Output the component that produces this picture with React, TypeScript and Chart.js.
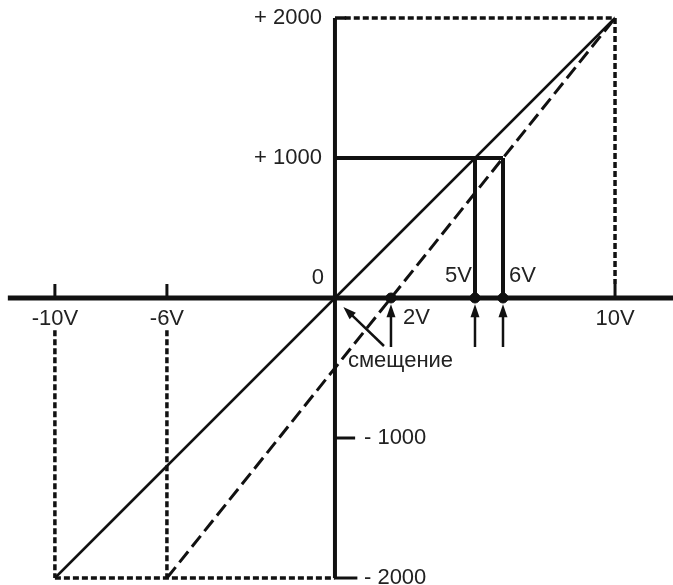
import React, { useEffect, useRef } from "react";
import { Chart, registerables } from "chart.js";

Chart.register(...registerables);

// ---- data ----
const solidX = [-10, 10];
const solidY = [-2000, 2000];
const dashedX = [-6, 10];
const dashedY = [-2000, 2000];
const markerX = [2, 5, 6];
const markerLabels = ["2V", "5V", "6V"];
const levelY = 1000;
const levelEndX = 6;
const rangeX = [-10, 10];
const rangeY = [-2000, 2000];
const guideX = [-10, -6];
const xTickValues = [-10, -6, 10];
const xTickLabels = ["-10V", "-6V", "10V"];
const yTickValues = [2000, 1000, -1000, -2000];
const yTickLabels = ["+ 2000", "+ 1000", "- 1000", "- 2000"];
const zeroLabel = "0";
const offsetLabel = "смещение";
const arrowTailY = -350;
const arrowTipY = -45;
const offsetArrowFrom = [1.75, -343];
const offsetArrowTo = [0.3, -64];

type Seg = [number, number, number, number];

const INK = "#111";

function seg(s: Seg, width: number, dash: number[] = []) {
  return {
    data: [
      { x: s[0], y: s[1] },
      { x: s[2], y: s[3] },
    ],
    borderColor: INK,
    borderWidth: width,
    borderDash: dash,
    borderCapStyle: "butt" as const,
    pointRadius: 0,
    showLine: true,
    fill: false,
    clip: false as const,
  };
}

const labelPlugin = {
  id: "labels",
  afterDatasetsDraw(chart: any) {
    const ctx = chart.ctx;
    const xs = chart.scales.x;
    const ys = chart.scales.y;
    const px = (v: number) => xs.getPixelForValue(v);
    const py = (v: number) => ys.getPixelForValue(v);
    const x0 = px(0);
    const y0 = py(0);

    const arrow = (x1: number, y1: number, x2: number, y2: number) => {
      const ang = Math.atan2(y2 - y1, x2 - x1);
      const len = 13;
      const hw = 4.5;
      ctx.save();
      ctx.strokeStyle = INK;
      ctx.fillStyle = INK;
      ctx.lineWidth = 2.5;
      ctx.beginPath();
      ctx.moveTo(x1, y1);
      ctx.lineTo(x2 - Math.cos(ang) * len * 0.8, y2 - Math.sin(ang) * len * 0.8);
      ctx.stroke();
      ctx.beginPath();
      ctx.moveTo(x2, y2);
      ctx.lineTo(
        x2 - Math.cos(ang) * len + Math.sin(ang) * hw,
        y2 - Math.sin(ang) * len - Math.cos(ang) * hw
      );
      ctx.lineTo(
        x2 - Math.cos(ang) * len - Math.sin(ang) * hw,
        y2 - Math.sin(ang) * len + Math.cos(ang) * hw
      );
      ctx.closePath();
      ctx.fill();
      ctx.restore();
    };

    markerX.forEach((mx) => arrow(px(mx), py(arrowTailY), px(mx), py(arrowTipY)));
    arrow(px(offsetArrowFrom[0]), py(offsetArrowFrom[1]), px(offsetArrowTo[0]), py(offsetArrowTo[1]));

    ctx.save();
    ctx.fillStyle = "#222";
    ctx.font = "22px 'Liberation Sans', Arial, sans-serif";
    ctx.textBaseline = "middle";

    ctx.textAlign = "center";
    xTickValues.forEach((v, i) => ctx.fillText(xTickLabels[i], px(v), y0 + 21));

    // marker labels
    ctx.textAlign = "left";
    ctx.fillText(markerLabels[0], px(markerX[0]) + 12, y0 + 20);
    ctx.textAlign = "right";
    ctx.fillText(markerLabels[1], px(markerX[1]) - 3, y0 - 22);
    ctx.textAlign = "left";
    ctx.fillText(markerLabels[2], px(markerX[2]) + 6, y0 - 22);

    ctx.textAlign = "center";
    ctx.fillText(zeroLabel, x0 - 17, y0 - 20);

    ctx.textAlign = "left";
    ctx.fillText(offsetLabel, x0 + 13, y0 + 63);

    yTickValues.forEach((v, i) => {
      if (v > 0) {
        ctx.textAlign = "right";
        ctx.fillText(yTickLabels[i], x0 - 13, py(v));
      } else {
        ctx.textAlign = "left";
        ctx.fillText(yTickLabels[i], x0 + 29, py(v));
      }
    });
    ctx.restore();
  },
};

export default function App() {
  const ref = useRef<HTMLCanvasElement>(null);

  useEffect(() => {
    if (!ref.current) return;
    const dotted = [6, 3];
    const datasets: any[] = [
      {
        type: "scatter",
        data: markerX.map((x) => ({ x, y: 0 })),
        pointRadius: 5,
        pointBackgroundColor: INK,
        pointBorderColor: INK,
        showLine: false,
        clip: false,
      },
      seg([-11.68, 0, 12.2, 0], 5),
      seg([0, rangeY[0], 0, rangeY[1]], 4),
      seg([0, levelY, levelEndX, levelY], 4),
      seg([markerX[1], 0, markerX[1], levelY], 4),
      seg([markerX[2], 0, markerX[2], levelY], 4),
      seg([solidX[0], solidY[0], solidX[1], solidY[1]], 2.5),
      seg([dashedX[0], dashedY[0], dashedX[1], dashedY[1]], 3, [14, 6]),
      // dotted guides
      seg([0.35, rangeY[1], rangeX[1], rangeY[1]], 3.5, dotted),
      seg([rangeX[1], rangeY[1], rangeX[1], 100], 3.5, dotted),
      seg([rangeX[0], rangeY[0], 0, rangeY[0]], 3.5, dotted),
      ...guideX.map((g) => seg([g, -230, g, rangeY[0]], 3.5, dotted)),
      // short ticks above axis
      ...xTickValues.map((v) => seg([v, 0, v, 100], 3)),
      // y stubs
      seg([0, rangeY[1], 0.4, rangeY[1]], 3.5),
      seg([0, -1000, 0.72, -1000], 3),
      seg([0, rangeY[0], 0.8, rangeY[0]], 3),
    ];

    const chart = new Chart(ref.current, {
      type: "line",
      data: { datasets },
      options: {
        animation: false,
        responsive: false,
        devicePixelRatio: 1,
        layout: { padding: 0, autoPadding: false },
        plugins: { legend: { display: false }, tooltip: { enabled: false } },
        scales: {
          x: { type: "linear", min: -11.96, max: 12.07, display: false },
          y: { type: "linear", min: -2050, max: 2128.6, display: false },
        },
        elements: { line: { tension: 0 } },
      },
      plugins: [labelPlugin],
    } as any);
    return () => chart.destroy();
  }, []);

  return (
    <div style={{ position: "absolute", left: 0, top: 0, width: 673, height: 585, background: "#fff" }}>
      <canvas ref={ref} width={673} height={585} />
    </div>
  );
}
